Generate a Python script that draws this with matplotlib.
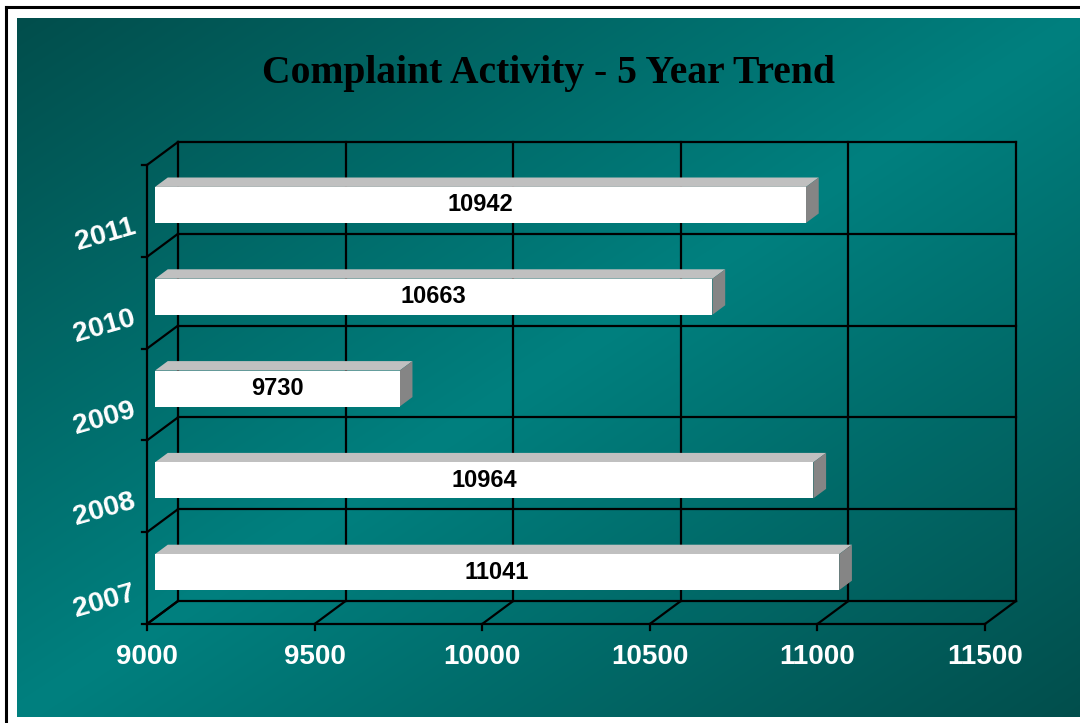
import numpy as np
from matplotlib import pyplot as plt
from matplotlib.patches import Polygon

years = ['2007', '2008', '2009', '2010', '2011']
complaints = [11041, 10964, 9730, 10663, 10942]
xticks = [9000, 9500, 10000, 10500, 11000, 11500]
title = 'Complaint Activity - 5 Year Trend'

W, H = 1080, 723
fig = plt.figure(figsize=(W / 100, H / 100), dpi=100)
fig.patch.set_facecolor('white')

# background panel with diagonal teal gradient
bg = fig.add_axes([0, 0, 1, 1])
bg.set_xlim(0, W)
bg.set_ylim(H, 0)
bg.axis('off')
gx, gy = np.meshgrid(np.linspace(0, 1, 400), np.linspace(0, 1, 300))
t = (gx + gy) / 2
w = 1 - np.abs(2 * t - 1)
dark = np.array([2, 78, 76]) / 255
light = np.array([0, 128, 127]) / 255
img = dark + (light - dark) * w[..., None]
bg.imshow(img, extent=[17, 1085, 717, 18], aspect='auto', interpolation='bilinear')
bg.plot([6, 1085], [7, 7], color='black', lw=2.2)
bg.plot([6, 6], [7, 730], color='black', lw=2.2)

# front plane of the chart
x0, x1 = 147, 985
ytop, ybot = 165, 624
ax = fig.add_axes([x0 / W, (H - ybot) / H, (x1 - x0) / W, (ybot - ytop) / H])
ax.set_xlim(xticks[0], xticks[-1])
ax.set_ylim(0, len(years))
ax.axis('off')
ax.patch.set_alpha(0)

kx = (xticks[-1] - xticks[0]) / (x1 - x0)
ky = len(years) / (ybot - ytop)
DX, DY = 31 * kx, 23 * ky


def off(x, y, d):
    return (x + d * DX, y + d * DY)


line = dict(color='black', lw=1.6, clip_on=False, solid_capstyle='projecting')
xmin, xmax = xticks[0], xticks[-1]
n = len(years)

# back wall, side wall and floor
for i in range(n + 1):
    a, b = off(xmin, i, 1), off(xmax, i, 1)
    ax.plot([a[0], b[0]], [a[1], b[1]], **line)
    c = off(xmin, i, 0)
    ax.plot([c[0], a[0]], [c[1], a[1]], **line)
    ax.plot([xmin - 5 * kx, xmin], [i, i], **line)
for xv in xticks:
    a, b = off(xv, 0, 1), off(xv, n, 1)
    ax.plot([a[0], b[0]], [a[1], b[1]], **line)
    c = off(xv, 0, 0)
    ax.plot([c[0], a[0]], [c[1], a[1]], **line)
    ax.plot([xv, xv], [0, -6 * ky], **line)
    ax.text(xv, -33 * ky, str(xv), ha='center', va='center', color='white',
            fontsize=20, fontweight='bold', family='Liberation Sans')
ax.plot([xmin, xmax], [0, 0], **line)
ax.plot([xmin, xmin], [0, n], **line)

# bars
d0, d1 = 0.26, 0.67
h = 0.196
for i, (yr, v) in enumerate(zip(years, complaints)):
    c = i + 0.5
    front = [off(xmin, c - h, d0), off(v, c - h, d0), off(v, c + h, d0), off(xmin, c + h, d0)]
    top = [off(xmin, c + h, d0), off(v, c + h, d0), off(v, c + h, d1), off(xmin, c + h, d1)]
    side = [off(v, c - h, d0), off(v, c - h, d1), off(v, c + h, d1), off(v, c + h, d0)]
    ax.add_patch(Polygon(top, closed=True, facecolor='#C0C0C0', edgecolor='none', clip_on=False, zorder=3))
    ax.add_patch(Polygon(side, closed=True, facecolor='#858585', edgecolor='none', clip_on=False, zorder=3))
    ax.add_patch(Polygon(front, closed=True, facecolor='white', edgecolor='none', clip_on=False, zorder=3))
    lx, ly = off((xmin + v) / 2, c, d0)
    ax.text(lx, ly, str(v), ha='center', va='center', fontsize=17, fontweight='bold',
            color='black', family='Liberation Sans', zorder=4)
    ax.text(xmin - 12 * kx, c - 15 * ky, yr, ha='right', va='center', rotation=16,
            rotation_mode='anchor', color='white', fontsize=20.5, fontweight='bold',
            family='Liberation Sans')

fig.text(549 / W, 1 - 73 / H, title, ha='center', va='center', fontsize=28.5,
         fontweight='bold', family='Liberation Serif', color='black')

fig.savefig('out.png', dpi=100)
